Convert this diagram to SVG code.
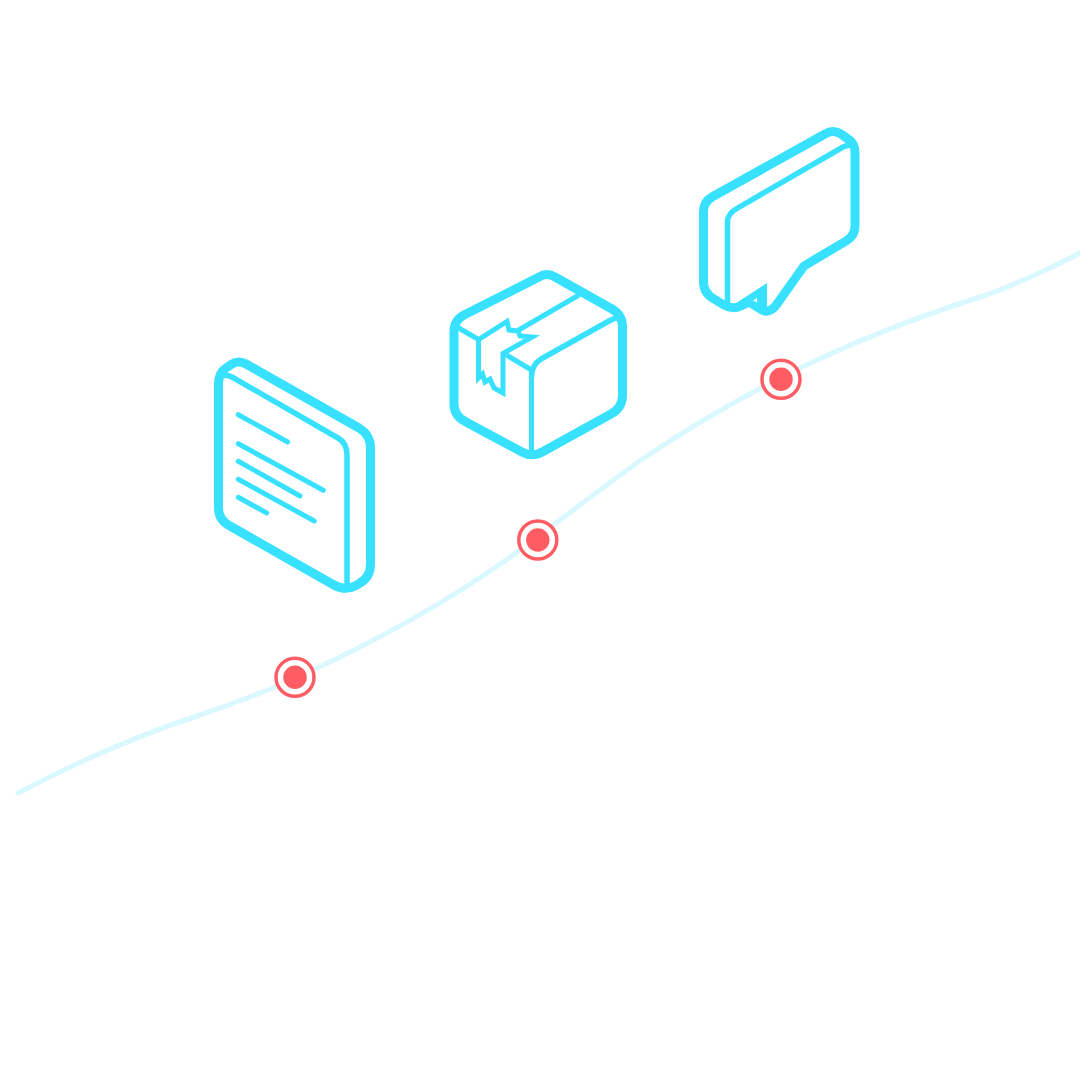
<svg xmlns="http://www.w3.org/2000/svg" width="1080" height="1080" viewBox="0 0 1080 1080">
<style>
.ln{fill:none;stroke:#38e1ff;stroke-linejoin:round;stroke-linecap:round}
.o{stroke-width:9}
.m{stroke-width:5.500}
.b{stroke-linecap:butt;stroke-linejoin:miter;stroke-width:5}
.t{stroke-width:5}
.ring{fill:#fff;stroke:#ff5c63;stroke-width:3.500}
.dot{fill:#ff5c63}
</style>
<rect width="1080" height="1080" fill="#fff"/>
<g id="connectors">
<path d="M18,793 C75,763 130,738 200,715 C235,703 265,692 295,678.500 C355,651 445,605 520,550 C558,522 605,485 647,456 C690,427 735,400 800,368 C860,339 930,313 980,297 C1013,286 1047,270 1080,253" fill="none" stroke="#d9f8ff" stroke-width="5" stroke-linecap="round"/>
</g>
<g id="document">
<path class="ln o" d="M218.500,508 Q218.500,520 230,526 L333,584.500 Q345,591.500 356,585.500 L360,583 Q370.500,577 370.500,564 L370.500,448 Q370.500,435 359,428 L246,364 Q239,360 232,364 L226,368 Q218.500,373 218.500,384 Z"/>
<path class="ln m" d="M222,376 Q226,374 232,377 L338,438 Q347,443 347,455 L347,585"/>
<path class="ln t" d="M238.300,414.700L287.700,442M238.300,443.700L323.300,490.300M238.300,461.300L300,496M238.300,479.300L314.300,521M238.300,497.300L266.700,513"/>
</g>
<g id="box">
<path class="ln o" d="M454,404 Q454,416 466,422 L522,452 Q533,458 544,451 L611,414 Q622.500,408 622.500,395 L622.500,327 Q622.500,315 612,309 L555,277 Q547,272 539,277 L464,315 Q454,320 454,332 Z"/>
<path class="ln b" d="M457,327L478.500,339.500L507,321.500L509,330L518,331L520,336L532,337L503,353.500V393L494,388L490,379L485,382L482.500,374L478.500,378V339"/>
<path class="ln b" d="M517,331L579,295M503,353L531.500,370V454"/>
<path class="ln m" d="M531.500,377 Q531.500,365 541,359 L609,321 Q616,317 621,318"/>
</g>
<g id="bubble">
<path class="ln o" d="M703.500,212 Q703.500,202 712,197 L825,134 Q833,129 841,134 L848,139 Q855,143 855,153 L855,226 Q855,236 846,241 L804,266 L777,304 Q770,314 762,310 L749,302 L741,306 Q732,310 724,305 L714,299 Q703.500,293 703.500,282 Z"/>
<path class="ln m" d="M727.500,305 L727.500,222 Q727.500,214 736,209 L843,147 Q849,144 853,146"/>
<path d="M733,305L767,283V312L749,302Z" fill="#38e1ff"/>
<path d="M753,300.500L757,298V302.500Z" fill="#fff"/>
</g>
<g id="marker1"><circle class="ring" cx="295" cy="677.300" r="19"/><circle class="dot" cx="295" cy="677.300" r="11.700"/></g>
<g id="marker2"><circle class="ring" cx="537.800" cy="540" r="19"/><circle class="dot" cx="537.800" cy="540" r="11.700"/></g>
<g id="marker3"><circle class="ring" cx="781" cy="379.300" r="19"/><circle class="dot" cx="781" cy="379.300" r="11.700"/></g>
</svg>
